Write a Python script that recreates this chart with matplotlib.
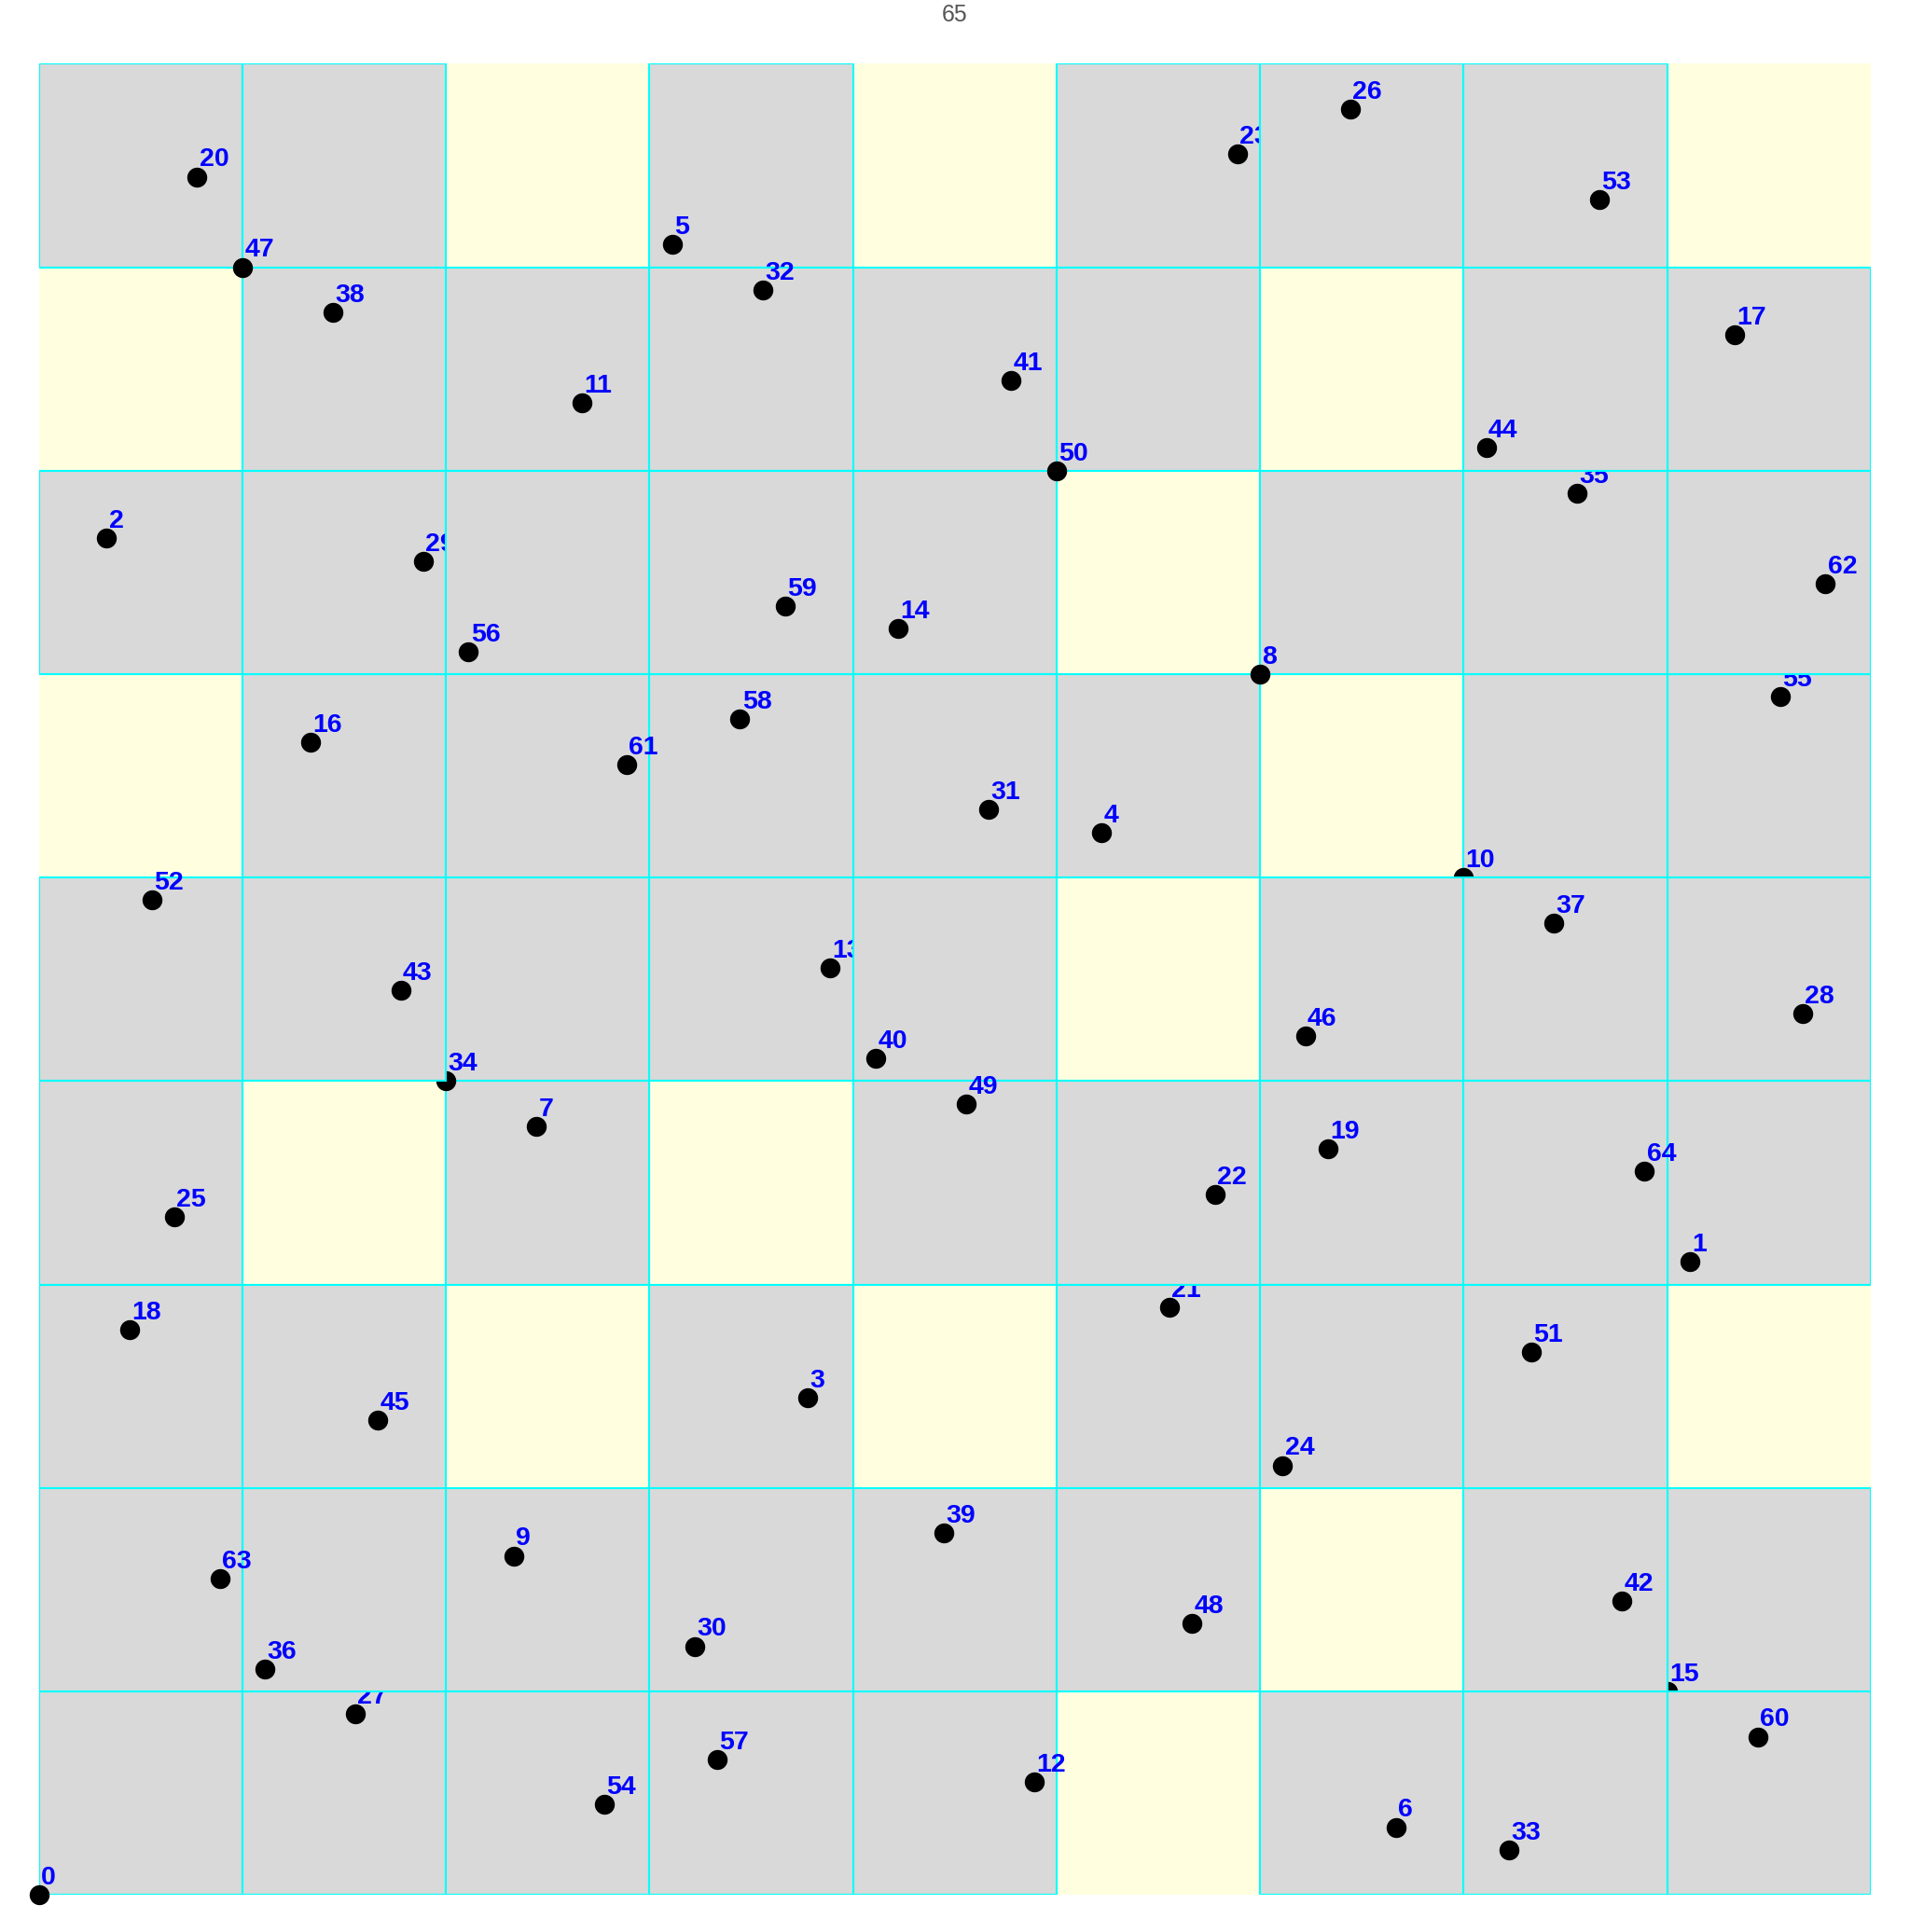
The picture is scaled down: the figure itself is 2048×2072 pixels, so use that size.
import matplotlib
matplotlib.use('Agg')

import matplotlib.pyplot as plt
from matplotlib.patches import Rectangle

# Points on a fine lattice (81 x 81), grid of 9 x 9 cells
n_fine = 81
cell = 9
xs = [0, 73, 3, 34, 47, 28, 60, 22, 54, 21,
      63, 24, 44, 35, 38, 72, 12, 75, 4, 57,
      7, 50, 52, 53, 55, 6, 58, 14, 78, 17,
      29, 42, 32, 65, 18, 68, 10, 67, 13, 40,
      37, 43, 70, 16, 64, 15, 56, 9, 51, 41,
      45, 66, 5, 69, 25, 77, 19, 30, 31, 33,
      76, 26, 79, 8, 71]
ys = [0, 28, 60, 22, 47, 73, 3, 34, 54, 15,
      45, 66, 5, 41, 56, 9, 51, 69, 25, 33,
      76, 26, 31, 77, 19, 30, 79, 8, 39, 59,
      11, 48, 71, 2, 36, 62, 10, 43, 70, 16,
      37, 67, 13, 40, 64, 21, 38, 72, 12, 35,
      63, 24, 44, 75, 4, 53, 55, 6, 52, 57,
      7, 50, 58, 14, 32]
labels = [str(i) for i in range(len(xs))]

W, H = 2048, 2072
fig = plt.figure(figsize=(W / 100, H / 100), dpi=100)

# axes placed exactly on the grid
left, right, top, bottom = 41.7, 2006.0, 68.3, 2032.3
ax = fig.add_axes([left / W, (H - bottom) / H, (right - left) / W, (bottom - top) / H])
ax.set_xlim(0, n_fine)
ax.set_ylim(0, n_fine)
ax.set_facecolor('lightyellow')
ax.set_xticks([])
ax.set_yticks([])
for s in ax.spines.values():
    s.set_visible(False)

# each point: its cell, then the dot, then its label (in insertion order)
for x, y, lab in zip(xs, ys, labels):
    cx, cy = (x // cell) * cell, (y // cell) * cell
    ax.add_patch(Rectangle((cx, cy), cell, cell, facecolor='#d9d9d9',
                           edgecolor='#00ffff', linewidth=1.5, zorder=2))
    ax.plot([x], [y], 'o', color='black', markersize=14.4, zorder=2, clip_on=False)
    ax.annotate(lab, (x, y), xytext=(1.6, 8), textcoords='offset points',
                ha='left', va='baseline', color='blue', fontweight='bold',
                fontsize=20.5, family='Liberation Sans', zorder=2)

fig.text(0.5, 1 - 23 / H, str(len(xs)), ha='center', va='baseline',
         fontsize=17.8, color='#555555', family='Liberation Sans')

plt.savefig('out.png', dpi=100)
